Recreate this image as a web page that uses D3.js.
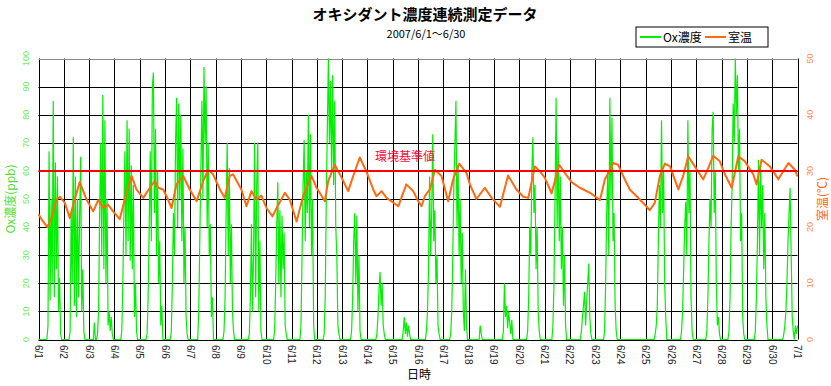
<!DOCTYPE html>
<html>
<head>
<meta charset="utf-8">
<script src="https://cdn.jsdelivr.net/npm/d3@7"></script>
<style>
    body { margin: 0; background: #fff; }
    svg { display: block; }
</style>
</head>
<body>
<svg id="chart" width="831" height="386"></svg>
<script>
"use strict";

// x tick labels, one per day boundary
var dayLabels = ["6/1", "6/2", "6/3", "6/4", "6/5", "6/6", "6/7", "6/8", "6/9", "6/10",
    "6/11", "6/12", "6/13", "6/14", "6/15", "6/16", "6/17", "6/18", "6/19", "6/20",
    "6/21", "6/22", "6/23", "6/24", "6/25", "6/26", "6/27", "6/28", "6/29", "6/30", "7/1"];

var oxTicks = [0, 10, 20, 30, 40, 50, 60, 70, 80, 90, 100];
var tempTicks = [0, 10, 20, 30, 40, 50];
var oxStandard = 60;

// Ox concentration (ppb), hourly, one row per day (6/1 .. 6/30) + 7/1 0:00
var oxHourly = [
    0, 0, 0, 0, 0, 0, 0, 0, 0, 5, 67, 14, 50, 20, 85, 15, 63, 25, 58, 10, 22, 2, 0, 0,
    0, 0, 0, 0, 0, 0, 3, 45, 20, 72, 12, 58, 8, 50, 15, 43, 65, 10, 25, 3, 0, 0, 0, 0,
    0, 0, 0, 0, 0, 6, 0, 0, 2, 10, 45, 70, 30, 87, 25, 78, 20, 50, 5, 10, 3, 8, 2, 0,
    0, 0, 0, 0, 0, 0, 0, 3, 20, 45, 67, 30, 78, 35, 75, 28, 62, 25, 55, 8, 20, 3, 0, 0,
    0, 0, 0, 0, 0, 0, 0, 2, 15, 40, 67, 35, 90, 95, 45, 75, 30, 60, 20, 35, 5, 12, 0, 0,
    0, 0, 0, 0, 0, 0, 3, 20, 45, 30, 70, 86, 40, 84, 50, 80, 35, 68, 20, 40, 8, 2, 0, 0,
    0, 0, 0, 0, 0, 0, 0, 0, 10, 35, 60, 85, 50, 97, 70, 90, 40, 70, 30, 41, 8, 15, 0, 0,
    0, 0, 0, 0, 0, 0, 0, 0, 3, 15, 45, 70, 30, 61, 20, 41, 10, 3, 0, 0, 0, 0, 0, 0,
    0, 0, 0, 0, 0, 0, 0, 0, 2, 15, 41, 10, 30, 70, 15, 55, 70, 10, 35, 3, 0, 0, 0, 0,
    0, 0, 0, 0, 0, 0, 0, 0, 3, 20, 40, 56, 20, 46, 15, 44, 25, 38, 5, 2, 0, 0, 0, 0,
    0, 0, 0, 0, 0, 0, 0, 0, 0, 5, 30, 55, 71, 35, 60, 45, 80, 40, 73, 30, 50, 5, 0, 0,
    0, 0, 0, 0, 0, 0, 0, 2, 15, 50, 75, 100, 70, 92, 60, 94, 55, 85, 40, 30, 5, 2, 0, 0,
    0, 0, 0, 0, 0, 0, 0, 0, 0, 3, 15, 35, 45, 20, 44, 10, 30, 3, 0, 0, 0, 0, 0, 0,
    0, 0, 0, 0, 0, 0, 0, 0, 0, 2, 8, 18, 24, 12, 20, 5, 2, 0, 0, 0, 0, 0, 0, 0,
    0, 0, 0, 0, 0, 0, 0, 0, 0, 0, 3, 8, 2, 6, 1, 5, 2, 0, 0, 0, 0, 0, 0, 0,
    0, 0, 0, 0, 0, 0, 0, 0, 3, 10, 25, 58, 30, 45, 73, 35, 46, 20, 30, 5, 2, 0, 0, 0,
    0, 0, 0, 0, 0, 0, 0, 2, 10, 30, 55, 69, 85, 40, 62, 30, 50, 20, 38, 10, 3, 25, 5, 0,
    0, 0, 0, 0, 0, 0, 0, 0, 0, 0, 0, 5, 2, 0, 0, 0, 0, 0, 0, 0, 0, 0, 0, 0,
    0, 0, 0, 0, 0, 0, 0, 0, 0, 3, 20, 8, 12, 4, 10, 6, 2, 7, 0, 0, 0, 0, 0, 0,
    0, 0, 0, 0, 0, 0, 0, 0, 3, 15, 40, 30, 60, 72, 45, 55, 25, 40, 10, 3, 0, 0, 0, 0,
    0, 0, 0, 0, 0, 0, 0, 0, 5, 20, 50, 86, 40, 70, 35, 58, 25, 40, 12, 30, 5, 0, 0, 0,
    0, 0, 0, 0, 0, 0, 0, 0, 0, 0, 0, 3, 8, 12, 17, 5, 14, 20, 27, 8, 2, 0, 0, 0,
    0, 0, 0, 0, 0, 0, 0, 0, 0, 3, 20, 45, 60, 30, 86, 50, 79, 35, 45, 12, 3, 0, 0, 0,
    0, 0, 0, 0, 0, 0, 0, 0, 0, 0, 0, 0, 0, 0, 0, 0, 0, 0, 0, 0, 0, 0, 0, 0,
    0, 0, 0, 0, 0, 0, 0, 0, 0, 2, 5, 12, 35, 55, 40, 78, 45, 60, 20, 8, 0, 0, 0, 0,
    0, 0, 0, 0, 0, 0, 0, 0, 0, 0, 3, 10, 25, 40, 49, 30, 78, 45, 60, 15, 3, 0, 0, 0,
    0, 0, 0, 0, 0, 0, 0, 0, 0, 0, 3, 15, 35, 50, 40, 75, 81, 45, 60, 20, 5, 8, 2, 0,
    0, 0, 0, 0, 0, 0, 0, 3, 15, 40, 55, 84, 70, 100, 80, 94, 60, 75, 35, 45, 8, 2, 0, 0,
    0, 0, 0, 0, 0, 0, 0, 0, 3, 15, 35, 64, 30, 62, 40, 55, 25, 45, 15, 5, 0, 0, 0, 0,
    0, 0, 0, 0, 0, 0, 0, 0, 0, 0, 0, 2, 5, 10, 20, 35, 45, 54, 30, 8, 3, 0, 5, 2,
    5
];

// room temperature (°C): [days since 6/1 0:00, value]
var tempPoints = [
    [0, 22.3], [0.15, 21.2], [0.35, 20.0], [0.5, 21.5], [0.71, 24.9], [0.85, 25.4],
    [1.04, 24.3], [1.24, 21.6], [1.37, 24.0], [1.63, 28.0], [1.9, 24.9], [2.16, 22.8],
    [2.36, 24.8], [2.56, 23.4], [2.75, 24.0], [2.95, 22.8], [3.21, 21.4], [3.41, 24.9],
    [3.68, 29.1], [3.87, 26.7], [4.14, 25.2], [4.4, 27.0], [4.6, 28.2], [4.73, 27.0],
    [4.93, 26.7], [5.06, 25.5], [5.26, 23.4], [5.45, 27.6], [5.72, 29.1], [5.98, 26.7],
    [6.25, 24.6], [6.51, 28.2], [6.71, 30.2], [6.9, 29.4], [7.17, 26.7], [7.36, 25.2],
    [7.56, 29.1], [7.69, 29.4], [8.02, 26.7], [8.22, 23.7], [8.42, 26.4], [8.62, 24.9],
    [8.81, 25.6], [9.01, 23.4], [9.25, 21.9], [9.41, 23.4], [9.74, 26.1], [9.93, 24.9],
    [10.2, 21.0], [10.46, 25.5], [10.79, 29.1], [10.99, 27.0], [11.32, 24.6], [11.45, 28.2],
    [11.71, 31.1], [11.98, 28.8], [12.24, 26.4], [12.44, 29.1], [12.7, 32.4], [12.96, 29.9],
    [13.23, 26.7], [13.36, 25.5], [13.56, 26.4], [13.76, 25.2], [14.22, 23.7], [14.54, 27.6],
    [14.81, 26.4], [15.0, 24.7], [15.14, 23.7], [15.27, 25.5], [15.47, 26.7], [15.67, 30.2],
    [15.93, 29.1], [16.19, 24.6], [16.39, 28.5], [16.63, 31.3], [16.92, 29.6], [17.05, 27.6],
    [17.31, 25.0], [17.64, 27.0], [17.91, 25.2], [18.24, 23.6], [18.56, 29.2], [18.89, 26.7],
    [19.16, 25.4], [19.36, 25.2], [19.62, 30.8], [19.82, 29.9], [20.01, 28.8], [20.28, 26.0],
    [20.58, 31.1], [20.81, 29.6], [21.07, 28.0], [21.4, 27.0], [21.8, 26.1], [22.19, 24.8],
    [22.39, 28.5], [22.59, 30.2], [22.71, 31.4], [22.91, 31.1], [23.11, 29.1], [23.37, 26.7],
    [23.64, 25.5], [23.9, 24.3], [24.16, 23.0], [24.36, 24.3], [24.56, 29.1], [24.76, 31.3],
    [24.96, 30.8], [25.29, 26.7], [25.48, 29.1], [25.68, 32.6], [25.94, 30.8], [26.27, 28.5],
    [26.47, 30.5], [26.67, 32.7], [26.93, 31.7], [27.13, 29.4], [27.4, 27.0], [27.66, 32.6],
    [27.92, 31.7], [28.25, 29.4], [28.38, 27.6], [28.58, 32.0], [28.91, 30.8], [29.24, 28.5],
    [29.64, 31.4], [29.9, 30.2], [30.0, 29.0]
];

var GREEN = "#00f000";
var ORANGE = "#ff6a10";
var LATIN = "'Liberation Sans', Arial, sans-serif";
var JP = "'Noto Sans CJK JP', sans-serif";

var svg = d3.select("#chart");

// plot area
var plotL = 38.5, plotR = 797.5, plotT = 58.5, plotB = 339.5;

var x = d3.scaleLinear().domain([0, dayLabels.length - 1]).range([plotL, plotR]);
var yOx = d3.scaleLinear().domain([0, 100]).range([plotB, plotT]);
var yTemp = d3.scaleLinear().domain([0, 50]).range([plotB, plotT]);

// titles
svg.append("text")
    .attr("x", 425).attr("y", 20)
    .attr("text-anchor", "middle")
    .style("font-family", JP).style("font-size", "15px").style("font-weight", "bold")
    .text("オキシダント濃度連続測定データ");

svg.append("text")
    .attr("x", 426).attr("y", 38)
    .attr("text-anchor", "middle")
    .style("font-family", JP).style("font-size", "11px")
    .text("2007/6/1～6/30");

// grid
var grid = svg.append("g").attr("stroke", "#000").attr("stroke-width", 1);
grid.selectAll("line.h")
    .data(oxTicks.slice(0, -1))
    .enter().append("line")
    .attr("x1", plotL).attr("x2", plotR)
    .attr("y1", function (d) { return Math.round(yOx(d)) + 0.5; })
    .attr("y2", function (d) { return Math.round(yOx(d)) + 0.5; });
grid.selectAll("line.v")
    .data(dayLabels)
    .enter().append("line")
    .attr("x1", function (d, i) { return Math.round(x(i)) + 0.5; })
    .attr("x2", function (d, i) { return Math.round(x(i)) + 0.5; })
    .attr("y1", plotT).attr("y2", plotB);
svg.append("line")
    .attr("x1", plotL).attr("x2", plotR)
    .attr("y1", Math.round(yOx(100)) + 0.5).attr("y2", Math.round(yOx(100)) + 0.5)
    .attr("stroke", "#888");

// Ox series
var oxLine = d3.line()
    .x(function (v, i) { return x(i / 24); })
    .y(function (v) { return yOx(v); });
svg.append("path")
    .datum(oxHourly)
    .attr("fill", "none")
    .attr("stroke", GREEN)
    .attr("stroke-width", 1.2)
    .attr("d", oxLine);

// temperature series
var tempLine = d3.line()
    .x(function (p) { return x(p[0]); })
    .y(function (p) { return yTemp(p[1]); });
svg.append("path")
    .datum(tempPoints)
    .attr("fill", "none")
    .attr("stroke", ORANGE)
    .attr("stroke-width", 2)
    .attr("stroke-linejoin", "round")
    .attr("d", tempLine);

// environmental standard line
svg.append("line")
    .attr("x1", plotL).attr("x2", plotR)
    .attr("y1", yOx(oxStandard)).attr("y2", yOx(oxStandard))
    .attr("stroke", "#ff0000").attr("stroke-width", 2);
svg.append("text")
    .attr("x", x(13.3)).attr("y", yOx(oxStandard + 3.5))
    .style("font-family", JP).style("font-size", "12px")
    .attr("fill", "#ff0a3a")
    .text("環境基準値");

// left axis labels
svg.selectAll("text.oxTick")
    .data(oxTicks)
    .enter().append("text")
    .attr("transform", function (d) { return "translate(26," + yOx(d) + ") rotate(-90)"; })
    .attr("text-anchor", "middle").attr("dy", "0.35em")
    .style("font-family", LATIN).style("font-size", "9px")
    .attr("fill", "#66ee55")
    .text(function (d) { return d; });

svg.append("text")
    .attr("transform", "translate(11," + (plotT + plotB) / 2 + ") rotate(-90)")
    .attr("text-anchor", "middle").attr("dy", "0.35em")
    .style("font-family", JP).style("font-size", "12px")
    .attr("fill", "#55dd33")
    .text("Ox濃度(ppb)");

// right axis labels
svg.selectAll("text.tempTick")
    .data(tempTicks)
    .enter().append("text")
    .attr("transform", function (d) { return "translate(810," + yTemp(d) + ") rotate(-90)"; })
    .attr("text-anchor", "middle").attr("dy", "0.35em")
    .style("font-family", LATIN).style("font-size", "9px")
    .attr("fill", "#ff8855")
    .text(function (d) { return d; });

svg.append("text")
    .attr("transform", "translate(823," + (plotT + plotB) / 2 + ") rotate(-90)")
    .attr("text-anchor", "middle").attr("dy", "0.35em")
    .style("font-family", JP).style("font-size", "12px")
    .attr("fill", "#ff6622")
    .text("室温(℃)");

// x axis labels
svg.selectAll("text.day")
    .data(dayLabels)
    .enter().append("text")
    .attr("transform", function (d, i) { return "translate(" + x(i) + ",345) rotate(90)"; })
    .attr("dy", "0.35em")
    .style("font-family", LATIN).style("font-size", "10px")
    .attr("fill", "#222")
    .text(function (d) { return d; });

svg.append("text")
    .attr("x", 419).attr("y", 379)
    .attr("text-anchor", "middle")
    .style("font-family", JP).style("font-size", "12px")
    .text("日時");

// legend
var legend = svg.append("g").attr("transform", "translate(636,27)");
legend.append("rect")
    .attr("width", 132).attr("height", 20)
    .attr("fill", "#fff").attr("stroke", "#000");
var legendItems = [
    { name: "Ox濃度", color: GREEN, x: 4 },
    { name: "室温", color: ORANGE, x: 69 }
];
legend.selectAll("line.item")
    .data(legendItems)
    .enter().append("line")
    .attr("x1", function (d) { return d.x; })
    .attr("x2", function (d) { return d.x + 21; })
    .attr("y1", 10).attr("y2", 10)
    .attr("stroke", function (d) { return d.color; })
    .attr("stroke-width", 2);
legend.selectAll("text.item")
    .data(legendItems)
    .enter().append("text")
    .attr("x", function (d) { return d.x + 23; })
    .attr("y", 14.5)
    .style("font-family", JP).style("font-size", "12px")
    .text(function (d) { return d.name; });
</script>
</body>
</html>
